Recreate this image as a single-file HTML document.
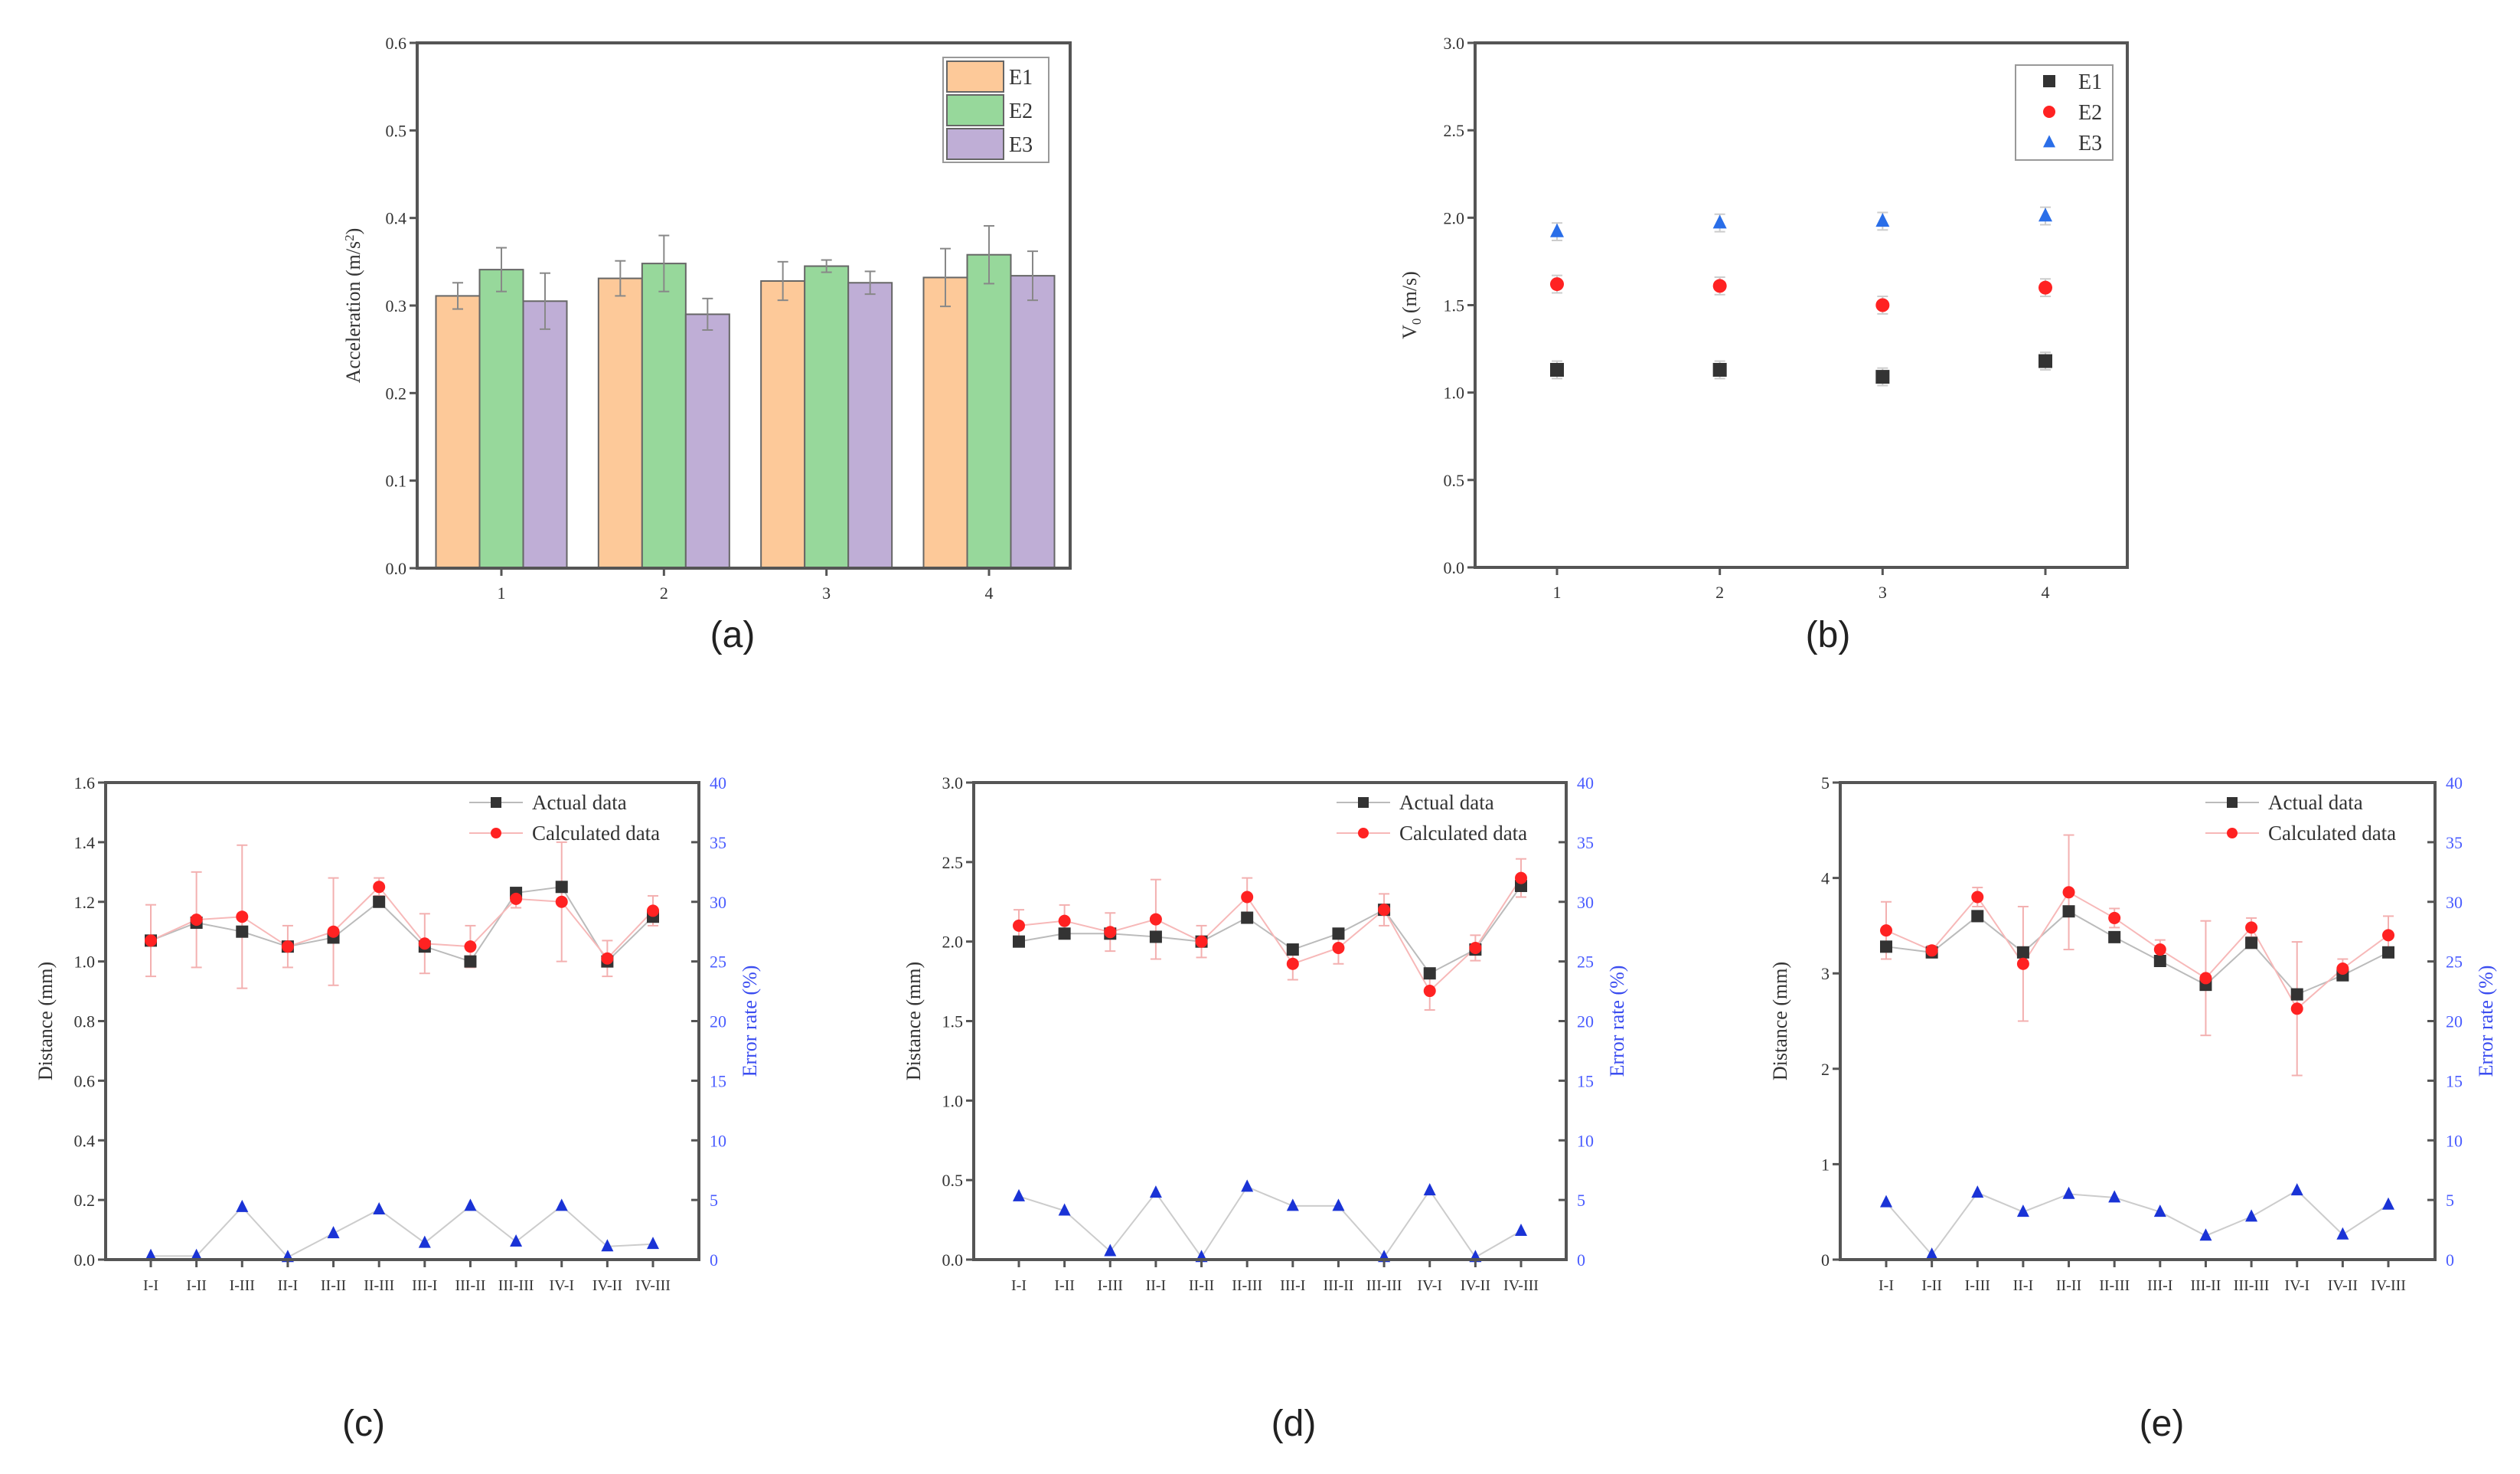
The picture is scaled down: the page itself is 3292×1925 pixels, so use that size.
<!DOCTYPE html>
<html><head><meta charset="utf-8"><style>
html,body{margin:0;padding:0;background:#fff}
svg{display:block}
text{font-family:"Liberation Serif",serif;fill:#333}
</style></head><body>
<svg id="fig" width="3292" height="1925" viewBox="0 0 3292 1925" xmlns="http://www.w3.org/2000/svg"></svg>
<script>
// Panel (a) data
const aCats = ["1","2","3","4"];
const aE1 = [0.311,0.331,0.328,0.332];
const aE2 = [0.341,0.348,0.345,0.358];
const aE3 = [0.305,0.290,0.326,0.334];
const aE1err = [0.015,0.020,0.022,0.033];
const aE2err = [0.025,0.032,0.007,0.033];
const aE3err = [0.032,0.018,0.013,0.028];
const aTicks = ["0.0","0.1","0.2","0.3","0.4","0.5","0.6"];
// Panel (b) data
const bCats = ["1","2","3","4"];
const bE1 = [1.13,1.13,1.09,1.18];
const bE2 = [1.62,1.61,1.50,1.60];
const bE3 = [1.92,1.97,1.98,2.01];
const bTicks = ["0.0","0.5","1.0","1.5","2.0","2.5","3.0"];
// Panels (c)(d)(e)
const dCats = ["I-I","I-II","I-III","II-I","II-II","II-III","III-I","III-II","III-III","IV-I","IV-II","IV-III"];
const cActual = [1.07,1.13,1.10,1.05,1.08,1.20,1.05,1.00,1.23,1.25,1.00,1.15];
const cCalc = [1.07,1.14,1.15,1.05,1.10,1.25,1.06,1.05,1.21,1.20,1.01,1.17];
const cCalcErr = [0.12,0.16,0.24,0.07,0.18,0.03,0.10,0.07,0.03,0.20,0.06,0.05];
const cError = [0.3,0.3,4.4,0.2,2.2,4.2,1.4,4.5,1.5,4.5,1.1,1.3];
const cTicks = ["0.0","0.2","0.4","0.6","0.8","1.0","1.2","1.4","1.6"];
const dActual = [2.00,2.05,2.05,2.03,2.00,2.15,1.95,2.05,2.20,1.80,1.95,2.35];
const dCalc = [2.10,2.13,2.06,2.14,2.00,2.28,1.86,1.96,2.20,1.69,1.96,2.40];
const dCalcErr = [0.10,0.10,0.12,0.25,0.10,0.12,0.10,0.10,0.10,0.12,0.08,0.12];
const dError = [5.3,4.1,0.7,5.6,0.2,6.1,4.5,4.5,0.2,5.8,0.2,2.4];
const dTicks = ["0.0","0.5","1.0","1.5","2.0","2.5","3.0"];
const eActual = [3.28,3.22,3.60,3.22,3.65,3.38,3.13,2.88,3.32,2.78,2.98,3.22];
const eCalc = [3.45,3.24,3.80,3.10,3.85,3.58,3.25,2.95,3.48,2.63,3.05,3.40];
const eCalcErr = [0.30,0.05,0.10,0.60,0.60,0.10,0.10,0.60,0.10,0.70,0.10,0.20];
const eError = [4.8,0.4,5.6,4.0,5.5,5.2,4.0,2.0,3.6,5.8,2.1,4.6];
const eTicks = ["0","1","2","3","4","5"];
const errTicks = ["0","5","10","15","20","25","30","35","40"];

const NS="http://www.w3.org/2000/svg";
const svg=document.getElementById('fig');
function mk(tag,attrs,parent,txt){const e=document.createElementNS(NS,tag);for(const k in attrs)e.setAttribute(k,attrs[k]);if(txt!==undefined)e.textContent=txt;(parent||svg).appendChild(e);return e;}
function grp(name,parent){const g=mk('g',{},parent);


return g;}
function scale(d0,d1,r0,r1){return v=>r0+(v-d0)*(r1-r0)/(d1-d0);}

function frame(g,L,R,T,B){
  const f=mk('rect',{x:L,y:T,width:R-L,height:B-T,fill:'none',stroke:'#555',"stroke-width":4},g);
  
  
}
function yAxis(g,ticks,y,L,color,side){
  const ag=grp(side==='right'?'right-y-axis':'y-axis',g);
  ticks.forEach(t=>{const v=parseFloat(t),yy=y(v);
    if(side==='right'){mk('line',{x1:L,x2:L-10,y1:yy,y2:yy,stroke:'#555',"stroke-width":3},ag);
      const tx=mk('text',{x:L+14,y:yy+8,"font-size":22,style:'fill:'+color},ag,t);
      
      }
    else{mk('line',{x1:L,x2:L-10,y1:yy,y2:yy,stroke:'#555',"stroke-width":3},ag);
      const tx=mk('text',{x:L-14,y:yy+8,"font-size":22,"text-anchor":"end"},ag,t);
      
      }
  });
}
function xAxis(g,cats,x,B,fs){
  const ag=grp('x-axis',g);
  cats.forEach((c,i)=>{const xx=x(i);
    mk('line',{x1:xx,x2:xx,y1:B,y2:B+10,stroke:'#555',"stroke-width":3},ag);
    const t=mk('text',{x:xx,y:B+40,"font-size":fs,"text-anchor":"middle"},ag,c);
    
    
  });
}
function vtitle(g,txt,x,y,color,name){
  const t=mk('text',{x:x,y:y,"font-size":26,"text-anchor":"middle",transform:`rotate(-90 ${x} ${y})`,style:color?'fill:'+color:''},g);
  t.innerHTML=txt;
  
  
}
function panelLabel(txt,x,y){
  const t=mk('text',{x:x,y:y,"font-size":48,"text-anchor":"middle",style:'font-family:"Liberation Sans",sans-serif;fill:#222'},svg,txt);
  
  
}
function errbar(g,x,y1,y2,col){
  mk('line',{x1:x,x2:x,y1:y1,y2:y2,stroke:col,"stroke-width":2},g);
  mk('line',{x1:x-7,x2:x+7,y1:y1,y2:y1,stroke:col,"stroke-width":2},g);
  mk('line',{x1:x-7,x2:x+7,y1:y2,y2:y2,stroke:col,"stroke-width":2},g);
}
function marker(g,type,x,y,col,s){
  let m;
  if(type==='sq')m=mk('rect',{x:x-s,y:y-s,width:2*s,height:2*s,fill:col},g);
  else if(type==='ci')m=mk('circle',{cx:x,cy:y,r:s,fill:col},g);
  else m=mk('polygon',{points:`${x},${y-s*1.2} ${x-s},${y+s*0.8} ${x+s},${y+s*0.8}`,fill:col},g);
  return m;
}

// ---------- Panel (a)
(function(){
  const g=grp('panel-a-bar-chart');
  const L=545,R=1398,T=56,B=742;
  const y=scale(0,0.6,B,T);
  const step=(1292-655)/3;
  const x=i=>655+i*step;
  const bw=57;
  const series=[[aE1,aE1err,'#fdc999','bar-e1'],[aE2,aE2err,'#97d89b','bar-e2'],[aE3,aE3err,'#bfaed6','bar-e3']];
  series.forEach((s,si)=>{
    aCats.forEach((c,i)=>{
      const cx=x(i)+(si-1)*bw;
      const r=mk('rect',{x:cx-bw/2,y:y(s[0][i]),width:bw,height:B-y(s[0][i]),fill:s[2],stroke:'#666',"stroke-width":2},g);
      
      
      errbar(g,cx,y(s[0][i]+s[1][i]),y(s[0][i]-s[1][i]),'#888');
    });
  });
  frame(g,L,R,T,B);
  yAxis(g,aTicks,y,L,'#333','left');
  xAxis(g,aCats,x,B,22);
  vtitle(g,'Acceleration (m/s<tspan dy="-8" font-size="17">2</tspan><tspan dy="8">)</tspan>',470,(T+B)/2,null,'y-axis-title');
  const lg=grp('legend',g);
  mk('rect',{x:1232,y:75,width:138,height:137,fill:'#fff',stroke:'#999',"stroke-width":2},lg);
  ['E1','E2','E3'].forEach((n,i)=>{
    const yy=80+i*44;
    mk('rect',{x:1237,y:yy,width:74,height:40,fill:series[i][2],stroke:'#666',"stroke-width":2},lg);
    const t=mk('text',{x:1318,y:yy+30,"font-size":28},lg,n);
    
    
  });
  panelLabel('(a)',957,845);
})();

// ---------- Panel (b)
(function(){
  const g=grp('panel-b-scatter');
  const L=1927,R=2779,T=56,B=741;
  const y=scale(0,3,B,T);
  const step=(2672-2034)/3;
  const x=i=>2034+i*step;
  const ser=[[bE1,'sq','#333','point-e1'],[bE2,'ci','#f22','point-e2'],[bE3,'tr','#2a6ee8','point-e3']];
  ser.forEach(s=>{bCats.forEach((c,i)=>{
    errbar(g,x(i),y(s[0][i]+0.05),y(s[0][i]-0.05),'#ccc');
    const m=marker(g,s[1],x(i),y(s[0][i]),s[2],9);
    
    
  });});
  frame(g,L,R,T,B);
  yAxis(g,bTicks,y,L,'#333','left');
  xAxis(g,bCats,x,B,22);
  vtitle(g,'V<tspan dy="6" font-size="17">0</tspan><tspan dy="-6"> (m/s)</tspan>',1850,(T+B)/2,null,'y-axis-title');
  const lg=grp('legend',g);
  mk('rect',{x:2633,y:85,width:127,height:124,fill:'#fff',stroke:'#999',"stroke-width":2},lg);
  ['E1','E2','E3'].forEach((n,i)=>{
    const yy=106+i*40;
    marker(lg,ser[i][1],2677,yy,ser[i][2],8);
    const t=mk('text',{x:2715,y:yy+10,"font-size":28},lg,n);
    
    
  });
  panelLabel('(b)',2388,845);
})();

// ---------- Panels c,d,e
function distPanel(name,L,R,x0,x1,ymax,ticks,act,calc,calcErr,errRate,label,lx){
  const g=grp(name);
  const T=1022,B=1645;
  const y=scale(0,ymax,B,T);
  const y2=scale(0,40,B,T);
  const st=(x1-x0)/11;
  const x=i=>x0+i*st;
  // calc error bars
  dCats.forEach((c,i)=>errbar(g,x(i),y(calc[i]+calcErr[i]),y(calc[i]-calcErr[i]),'#f3b0b0'));
  const lineOf=(arr,yf)=>arr.map((v,i)=>`${x(i)},${yf(v)}`).join(' ');
  const l1=mk('polyline',{points:lineOf(act,y),fill:'none',stroke:'#bbb',"stroke-width":2},g);
  
  
  const l2=mk('polyline',{points:lineOf(calc,y),fill:'none',stroke:'#f7b8b8',"stroke-width":2},g);
  
  
  const l3=mk('polyline',{points:lineOf(errRate,y2),fill:'none',stroke:'#ccc',"stroke-width":2},g);
  
  
  act.forEach((v,i)=>{const m=marker(g,'sq',x(i),y(v),'#333',8);
    
    });
  calc.forEach((v,i)=>{const m=marker(g,'ci',x(i),y(v),'#f22',8);
    
    });
  errRate.forEach((v,i)=>{const m=marker(g,'tr',x(i),y2(v),'#1a33d6',8);
    
    });
  frame(g,L,R,T,B);
  yAxis(g,ticks,y,L,'#333','left');
  yAxis(g,errTicks,y2,R,'#4a5cff','right');
  xAxis(g,dCats,x,B,20);
  vtitle(g,'Distance (mm)',L-70,(T+B)/2,null,'y-axis-title');
  vtitle(g,'Error rate (%)',R+75,(T+B)/2,'#3a4cf0','right-y-axis-title');
  const lg=grp('legend',g);
  const lx0=R-300;
  mk('line',{x1:lx0,x2:lx0+70,y1:1048,y2:1048,stroke:'#bbb',"stroke-width":2},lg);
  marker(lg,'sq',lx0+35,1048,'#333',7);
  let t=mk('text',{x:lx0+82,y:1057,"font-size":27},lg,'Actual data');
  
  
  mk('line',{x1:lx0,x2:lx0+70,y1:1088,y2:1088,stroke:'#f7b8b8',"stroke-width":2},lg);
  marker(lg,'ci',lx0+35,1088,'#f22',7);
  t=mk('text',{x:lx0+82,y:1097,"font-size":27},lg,'Calculated data');
  
  
  panelLabel(label,lx,1875);
}
distPanel('panel-c-distance',138,913,197,853,1.6,cTicks,cActual,cCalc,cCalcErr,cError,'(c)',475);
distPanel('panel-d-distance',1272,2046,1331,1987,3.0,dTicks,dActual,dCalc,dCalcErr,dError,'(d)',1690);
distPanel('panel-e-distance',2404,3181,2464,3120,5,eTicks,eActual,eCalc,eCalcErr,eError,'(e)',2824);
</script>
</body></html>
